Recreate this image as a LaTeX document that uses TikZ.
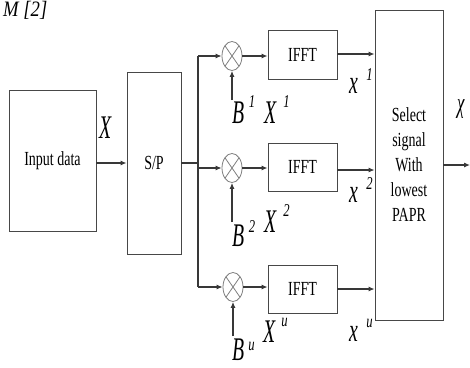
\documentclass[tikz,border=0pt]{standalone}
\usepackage{fontspec}
\setmainfont{Liberation Serif}
\newfontfamily\boxfont[FakeStretch=0.7]{Liberation Serif}
\newfontfamily\labfont[FakeStretch=0.6]{Liberation Serif}
\newfontfamily\supfont[FakeStretch=0.7]{Liberation Serif}
\newfontfamily\capfont[FakeStretch=0.85]{Liberation Serif}
\usetikzlibrary{arrows.meta,shapes.geometric}
\newcommand{\mysup}[2]{\raisebox{#1}{\supfont\fontsize{18}{18}\selectfont #2}}
\tikzset{
  blk/.style={draw=black!72, line width=0.9pt, rectangle, inner sep=0pt,
    font=\boxfont\fontsize{20}{25}\selectfont, align=center},
  mult/.style={draw=black!50, line width=0.8pt, ellipse, minimum width=20pt,
    minimum height=29pt, inner sep=0pt,
    path picture={\draw[black!50, line width=0.8pt]
      (path picture bounding box.north west) -- (path picture bounding box.south east)
      (path picture bounding box.north east) -- (path picture bounding box.south west);}},
  wire/.style={draw=black!78, line width=1.1pt},
  arr/.style={wire, -{Latex[length=6pt,width=5pt]}},
  lab/.style={anchor=base west, inner sep=0pt, font=\labfont\itshape\fontsize{33}{33}\selectfont},
}
\begin{document}
\begin{tikzpicture}[x=1pt,y=-1pt]
\clip (0,0) rectangle (470,367);
\fill[white] (0,0) rectangle (470,367);

% caption fragment
\node[anchor=base west, inner sep=0pt, font=\capfont\itshape\fontsize{22}{22}\selectfont] (cap) at (3,16) {M [2]};

% blocks
\node[blk, minimum width=87pt, minimum height=141pt] (input) at (52.5,161) {Input data};
\node[blk, minimum width=54pt, minimum height=182pt] (sp) at (154,163) {S/P};
\node[blk, minimum width=69pt, minimum height=49pt] (ifft1) at (302.5,54.5) {IFFT};
\node[blk, minimum width=69pt, minimum height=48pt] (ifft2) at (302.5,167) {IFFT};
\node[blk, minimum width=69pt, minimum height=48pt] (ifft3) at (302.5,289) {IFFT};
\node[blk, minimum width=68pt, minimum height=310pt] (sel) at (409,165) {Select\\signal\\With\\lowest\\PAPR};

% multipliers
\node[mult] (m1) at (232,56) {};
\node[mult] (m2) at (232,168) {};
\node[mult] (m3) at (233,287) {};

% coordinates
\coordinate (split) at (198,163);
\coordinate (b1) at (232,100);
\coordinate (b2) at (232,222);
\coordinate (b3) at (233,336);
\coordinate (out) at (470,165);

% connectors
\draw[arr] (input.east |- sp.west) -- (sp.west);
\draw[wire] (sp.east) -- (split);
\draw[wire] (split |- m1) -- (split |- m3);
\draw[arr] (split |- m1) -- (m1.west);
\draw[arr] (split |- m2) -- (m2.west);
\draw[arr] (split |- m3) -- (m3.west);
\draw[arr] (b1) -- (m1.south);
\draw[arr] (b2) -- (m2.south);
\draw[arr] (b3) -- (m3.south);
\draw[arr] (m1.east) -- (m1.east -| ifft1.west);
\draw[arr] (m2.east) -- (m2.east -| ifft2.west);
\draw[arr] (m3.east) -- (m3.east -| ifft3.west);
\draw[arr] ([yshift=0.5pt]ifft1.east) -- ([yshift=0.5pt]ifft1.east -| sel.west);
\draw[arr] ([yshift=-3pt]ifft2.east) -- ([yshift=-3pt]ifft2.east -| sel.west);
\draw[arr] (ifft3.east) -- (ifft3.east -| sel.west);
\draw[arr] (sel.east |- out) -- (out);

% labels
\node[lab] (lX) at (99,138) {X};
\node[lab] (lB1) at (232,123) {B\hspace{4.5pt}\mysup{16pt}{1}};
\node[lab] (lX1) at (264,123) {X\hspace{7pt}\mysup{16pt}{1}};
\node[lab] (lx1) at (349,93) {x\hspace{8.5pt}\mysup{13pt}{1}};
\node[lab] (lx2) at (349,202) {x\hspace{8.5pt}\mysup{13pt}{2}};
\node[lab] (lX2) at (264,232) {X\hspace{7pt}\mysup{16pt}{2}};
\node[lab] (lB2) at (232,246) {B\hspace{4.5pt}\mysup{14pt}{2}};
\node[lab] (lXu) at (263,342) {X\hspace{6pt}\mysup{16pt}{\itshape u}};
\node[lab] (lxu) at (349,341) {x\hspace{8.5pt}\mysup{14pt}{\itshape u}};
\node[lab] (lBu) at (232,360) {B\hspace{4pt}\mysup{10pt}{\itshape u}};
\node[lab, font=\labfont\itshape\fontsize{28}{28}\selectfont] (lchi) at (457,112) {χ};
\end{tikzpicture}
\end{document}
